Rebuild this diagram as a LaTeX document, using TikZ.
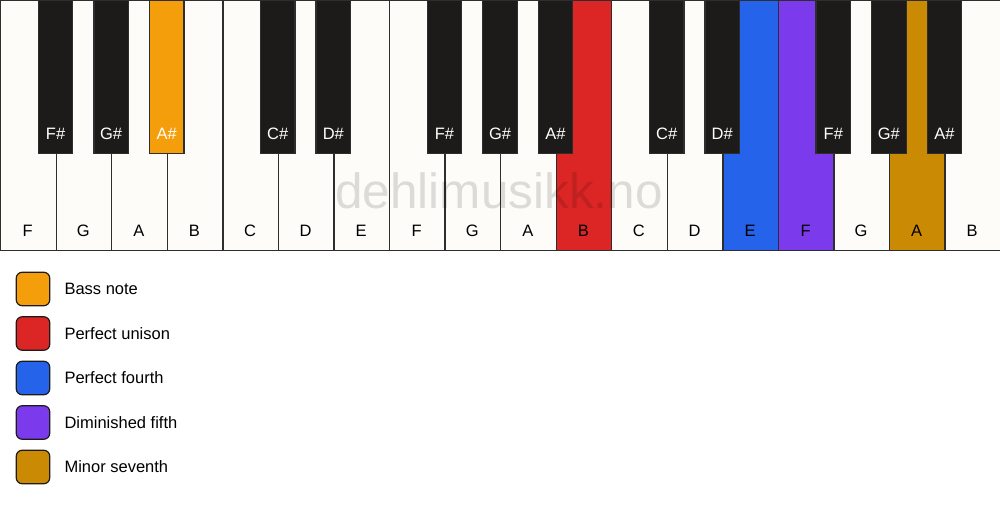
\documentclass[tikz,border=0pt]{standalone}
\usepackage{fontspec}
\setmainfont{Liberation Sans}
\usetikzlibrary{positioning}

\definecolor{ivory}{HTML}{FDFCF9}
\definecolor{ebony}{HTML}{1C1B19}
\definecolor{keyline}{HTML}{2E2E2E}
\definecolor{bassnote}{HTML}{F59E0B}
\definecolor{unison}{HTML}{DC2626}
\definecolor{fourth}{HTML}{2563EB}
\definecolor{dimfifth}{HTML}{7C3AED}
\definecolor{minseventh}{HTML}{CA8A04}

\tikzstyle{whitekey}   = [rectangle, draw=keyline, line width=1.3pt, minimum width=55.556pt, minimum height=250pt, inner sep=0pt, anchor=north west]
\tikzstyle{blackkey}   = [rectangle, draw=keyline, line width=1.3pt, minimum width=34.5pt, minimum height=153pt, inner sep=0pt, anchor=north]
\tikzstyle{keyname}    = [font=\fontsize{16.5}{19}\selectfont, anchor=base, inner sep=0pt]
\tikzstyle{swatch}     = [rectangle, draw=ebony, rounded corners=6pt, line width=1.2pt, minimum size=33.5pt, inner sep=0pt]
\tikzstyle{legendtext} = [font=\fontsize{16.5}{19}\selectfont, anchor=west, inner sep=0pt]

\begin{document}
\begin{tikzpicture}[x=1pt, y=-1pt, node distance=44.5pt]
            \useasboundingbox (0,0) rectangle (1000,506);

            % white keys
            \foreach \n/\c [count=\i from 0] in {F/ivory, G/ivory, A/ivory, B/ivory, C/ivory, D/ivory, E/ivory,
                    F/ivory, G/ivory, A/ivory, B/unison, C/ivory, D/ivory, E/fourth, F/dimfifth, G/ivory, A/minseventh, B/ivory} {
                \node[whitekey, fill=\c] (w\i) at (\i*55.556,0) {};
                \node[keyname] (wl\i) at (\i*55.556+27.778,236) {\n};
            }

            \node[font=\fontsize{49.5}{58}\selectfont, text=black, text opacity=0.13, anchor=base, inner sep=0pt] (mark) at (499,208) {dehlimusikk.no};

            % black keys
            \foreach \b/\n/\c in {1/F\#/ebony, 2/G\#/ebony, 3/A\#/bassnote, 5/C\#/ebony, 6/D\#/ebony,
                    8/F\#/ebony, 9/G\#/ebony, 10/A\#/ebony, 12/C\#/ebony, 13/D\#/ebony,
                    15/F\#/ebony, 16/G\#/ebony, 17/A\#/ebony} {
                \node[blackkey, fill=\c] (b\b) at (\b*55.556,0) {};
                \node[keyname, text=white] (bl\b) at (\b*55.556,139) {\n};
            }

            % legend
            \node[swatch, fill=bassnote] (bass) at (33,289) {};
            \node[swatch, fill=unison, below of=bass] (uni) {};
            \node[swatch, fill=fourth, below of=uni] (four) {};
            \node[swatch, fill=dimfifth, below of=four] (dimf) {};
            \node[swatch, fill=minseventh, below of=dimf] (minsev) {};

            \node[legendtext, right=14pt of bass]   (tbass)   {Bass note};
            \node[legendtext, right=14pt of uni]    (tuni)    {Perfect unison};
            \node[legendtext, right=14pt of four]   (tfour)   {Perfect fourth};
            \node[legendtext, right=14pt of dimf]   (tdimf)   {Diminished fifth};
            \node[legendtext, right=14pt of minsev] (tminsev) {Minor seventh};
\end{tikzpicture}
\end{document}
